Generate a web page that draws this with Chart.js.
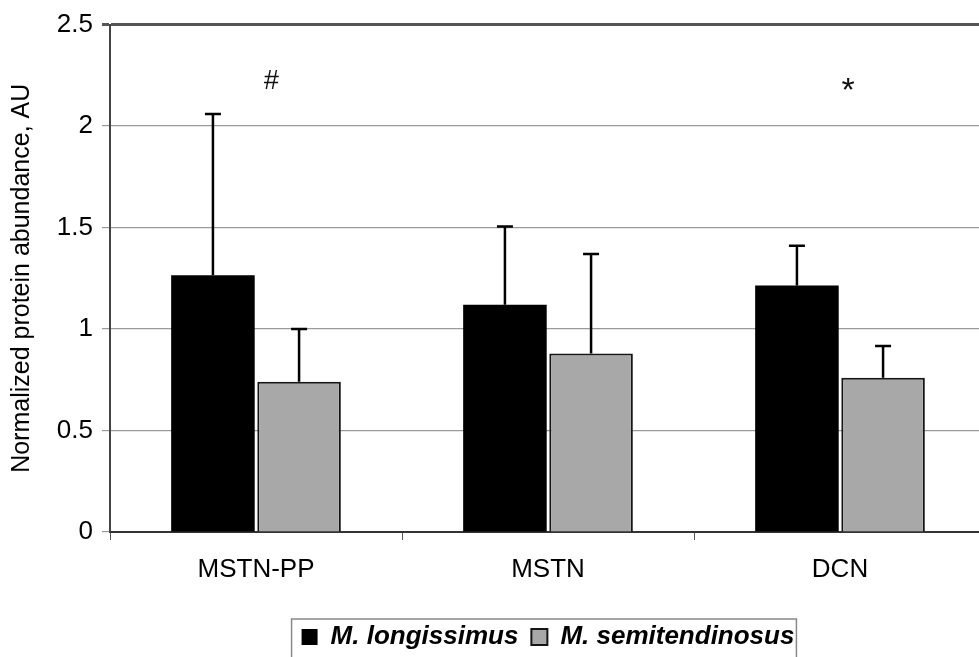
<!DOCTYPE html>
<html>
<head>
<meta charset="utf-8">
<script src="https://cdn.jsdelivr.net/npm/chart.js@4.4.1/dist/chart.umd.min.js"></script>
<style>
  html, body { margin: 0; padding: 0; background: #fff; overflow: hidden; }
  canvas { display: block; }
</style>
</head>
<body>
<canvas id="c" width="990" height="660"></canvas>
<script>
// ---- data ----
const categories = ['MSTN-PP', 'MSTN', 'DCN'];
const seriesNames = ['M. longissimus', 'M. semitendinosus'];
const longissimus = [1.265, 1.12, 1.215];
const semitendinosus = [0.74, 0.88, 0.76];
const longissimusErr = [0.795, 0.385, 0.195];
const semitendinosusErr = [0.26, 0.49, 0.157];
const significance = ['#', '', '*'];
const significanceLevel = 2.22;
const yTicks = [0, 0.5, 1, 1.5, 2, 2.5];

const FONT = "'Liberation Sans', Arial, Helvetica, sans-serif";

const errorBars = {
  id: 'errorBars',
  afterDatasetsDraw(chart) {
    const ctx = chart.ctx;
    const y = chart.scales.y;
    const errs = [longissimusErr, semitendinosusErr];
    ctx.save();
    ctx.strokeStyle = '#000';
    ctx.lineWidth = 2.5;
    chart.data.datasets.forEach((ds, di) => {
      const meta = chart.getDatasetMeta(di);
      meta.data.forEach((bar, i) => {
        const v = ds.data[i];
        const top = y.getPixelForValue(v + errs[di][i]);
        const base = y.getPixelForValue(v);
        ctx.beginPath();
        ctx.moveTo(bar.x, base);
        ctx.lineTo(bar.x, top);
        ctx.moveTo(bar.x - 8, top);
        ctx.lineTo(bar.x + 8, top);
        ctx.stroke();
      });
    });
    ctx.restore();
  }
};

const marks = {
  id: 'marks',
  afterDraw(chart) {
    const ctx = chart.ctx;
    const x = chart.scales.x, y = chart.scales.y;
    ctx.save();
    ctx.fillStyle = '#111';
    ctx.textAlign = 'center';
    ctx.textBaseline = 'middle';
    significance.forEach((s, i) => {
      if (!s) return;
      if (s === '*') {
        ctx.font = '34px ' + FONT;
        ctx.fillText(s, x.getPixelForValue(i) + 8, y.getPixelForValue(significanceLevel) + 10);
      } else {
        ctx.font = 'italic 27px ' + FONT;
        ctx.fillText(s, x.getPixelForValue(i) + 15, y.getPixelForValue(significanceLevel));
      }
    });
    // legend frame
    const lg = chart.legend;
    if (lg && lg.legendHitBoxes && lg.legendHitBoxes.length) {
      const hb = lg.legendHitBoxes;
      const l = hb[0].left - 10;
      const r = hb[hb.length - 1].left + hb[hb.length - 1].width + 2;
      ctx.strokeStyle = '#888';
      ctx.lineWidth = 1.5;
      ctx.strokeRect(l, 619, r - l, 60);
    }
    ctx.restore();
  }
};

new Chart(document.getElementById('c'), {
  type: 'bar',
  data: {
    labels: categories,
    datasets: [
      {
        label: seriesNames[0],
        data: longissimus,
        backgroundColor: '#000000',
        borderColor: '#000000',
        borderWidth: 0,
        categoryPercentage: 0.59,
        barPercentage: 0.97
      },
      {
        label: seriesNames[1],
        data: semitendinosus,
        backgroundColor: '#a8a8a8',
        borderColor: '#151515',
        borderWidth: 2,
        categoryPercentage: 0.59,
        barPercentage: 0.97
      }
    ]
  },
  options: {
    responsive: false,
    animation: false,
    layout: { padding: { left: 0, right: 4, top: 22, bottom: 0 } },
    plugins: {
      tooltip: { enabled: false },
      legend: {
        position: 'bottom',
        fullSize: false,
        labels: {
          color: '#000',
          boxWidth: 16,
          boxHeight: 16,
          padding: 13,
          font: { family: FONT, size: 26, style: 'italic', weight: 'bold' }
        }
      }
    },
    scales: {
      x: {
        afterFit(s) { s.height = 79; },
        grid: {
          offset: true,
          drawOnChartArea: false,
          drawTicks: true,
          tickLength: 8,
          color: '#555'
        },
        border: { display: true, color: '#333', width: 2 },
        ticks: {
          color: '#000',
          padding: 14,
          font: { family: FONT, size: 26 }
        }
      },
      y: {
        min: 0,
        max: 2.5,
        afterFit(s) { s.width = 110; },
        afterBuildTicks(s) { s.ticks = yTicks.map(v => ({ value: v })); },
        grid: {
          color: ctx => (ctx.tick && ctx.tick.value === 2.5) ? '#555' : '#9a9a9a',
          lineWidth: ctx => (ctx.tick && ctx.tick.value === 2.5) ? 3 : 1.2,
          tickLength: 8,
          drawTicks: true
        },
        border: { display: true, color: '#444', width: 2 },
        ticks: {
          color: '#000',
          padding: 9,
          font: { family: FONT, size: 26 },
          callback: v => String(v)
        },
        title: {
          display: true,
          text: 'Normalized protein abundance, AU',
          color: '#000',
          padding: { top: 7, bottom: 4 },
          font: { family: FONT, size: 25 }
        }
      }
    }
  },
  plugins: [errorBars, marks]
});
</script>
</body>
</html>
